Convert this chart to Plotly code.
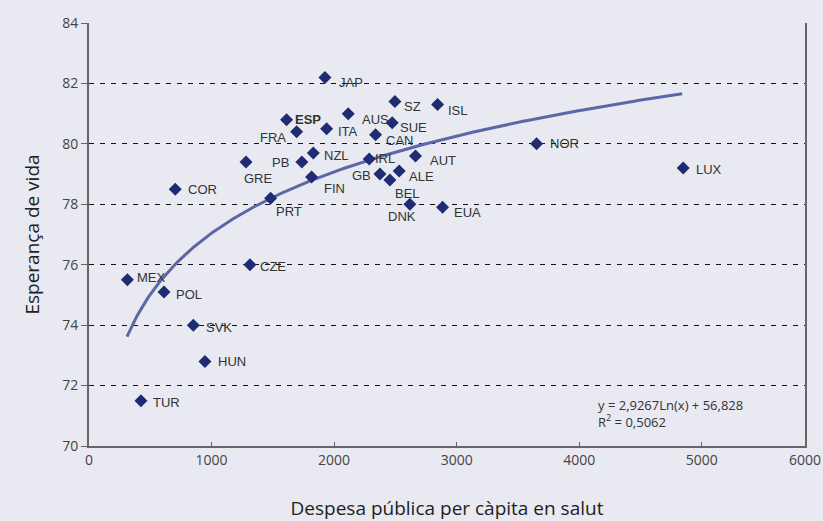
import numpy as np
import plotly.graph_objects as go

countries = ["JAP", "SZ", "ISL", "ESP", "AUS", "SUE", "FRA", "ITA", "CAN", "GRE",
             "PB", "NZL", "IRL", "AUT", "GB", "ALE", "BEL", "FIN", "PRT", "DNK",
             "EUA", "COR", "CZE", "MEX", "POL", "SVK", "HUN", "TUR", "NOR", "LUX"]
spending = [1925, 2496, 2844, 1612, 2115, 2474, 1694, 1939, 2338, 1281,
            1737, 1830, 2286, 2664, 2374, 2531, 2455, 1816, 1482, 2618,
            2885, 704, 1313, 313, 612, 851, 946, 424, 3652, 4848]
life_exp = [82.2, 81.4, 81.3, 80.8, 81.0, 80.7, 80.4, 80.5, 80.3, 79.4,
            79.4, 79.7, 79.5, 79.6, 79.0, 79.1, 78.8, 78.9, 78.2, 78.0,
            77.9, 78.5, 76.0, 75.5, 75.1, 74.0, 72.8, 71.5, 80.0, 79.2]

# label offsets in pixels (dx right, dy down) relative to marker
label_dx = [26, 18, 20, 21, 27, 21, -24, 21, 24, 12,
            -21, 23, 16, 27, -18, 22, 18, 23, 18, -8,
            25, 27, 23, 24, 25, 26, 27, 26, 28, 26]
label_dy = [5, 5, 6, 0, 6, 5, 6, 3, 6, 17,
            1, 3, 0, 5, 1, 5, 13, 11, 13, 12,
            5, 0, 2, -2, 3, 2, 0, 2, 0, 1]

# trendline coefficients (from chart equation)
coef_a = 2.9267
coef_b = 56.828
trend_x_start = 310
trend_x_end = 4840

y_ticks = [70, 72, 74, 76, 78, 80, 82, 84]
x_ticks = [0, 1000, 2000, 3000, 4000, 5000]
x_tick_labels = ["0", "1000", "2000", "3000", "4000", "5000"]

bg = "#E8E9F1"
fig = go.Figure()

tx = np.linspace(trend_x_start, trend_x_end, 300)
ty = coef_a * np.log(tx) + coef_b
fig.add_trace(go.Scatter(x=tx, y=ty, mode="lines",
                         line=dict(color="#5C67A8", width=3),
                         hoverinfo="skip", showlegend=False))

fig.add_trace(go.Scatter(x=spending, y=life_exp, mode="markers",
                         marker=dict(symbol="diamond", size=10, color="#1F2B73",
                                     line=dict(width=0)),
                         text=countries, showlegend=False))

for c, x, y, dx, dy in zip(countries, spending, life_exp, label_dx, label_dy):
    txt = "<b>%s</b>" % c if c == "ESP" else c
    fig.add_annotation(x=x, y=y, text=txt, showarrow=False,
                       xshift=dx, yshift=-dy, xanchor="center", yanchor="middle",
                       font=dict(family="Liberation Sans, Arial", size=13, color="#333333"))

fig.add_annotation(xref="paper", yref="paper", x=0.708, y=0.077, xanchor="left", yanchor="middle",
                   text="y = 2,9267Ln(x) + 56,828<br>R<sup>2</sup> = 0,5062", align="left",
                   showarrow=False,
                   font=dict(family="Open Sans", size=13, color="#333333"))

x_max = 5842
fig.update_layout(
    width=823, height=521,
    paper_bgcolor=bg, plot_bgcolor=bg,
    margin=dict(l=89, r=18, t=23, b=75),
    xaxis=dict(range=[0, x_max], tickvals=x_ticks + [x_max],
               ticktext=x_tick_labels + ["6000"], automargin=False,
               showgrid=False, zeroline=False,
               showline=True, linecolor="#666666", linewidth=2,
               ticks="inside", ticklen=4, tickcolor="#666666",
               tickfont=dict(family="Open Sans", size=14, color="#444444"),
               title=dict(text="Despesa pública per càpita en salut", standoff=34,
                          font=dict(family="Open Sans", size=19, color="#222222"))),
    yaxis=dict(range=[70, 84], tickvals=y_ticks, automargin=False,
               showgrid=True, gridcolor="#111111", gridwidth=1, griddash="5px,6px",
               zeroline=False,
               showline=True, linecolor="#666666", linewidth=2, mirror=True,
               ticks="outside", ticklen=6, tickcolor="#666666",
               tickfont=dict(family="Open Sans", size=14, color="#444444"),
               title=dict(text="Esperança de vida", standoff=18,
                          font=dict(family="Open Sans", size=19, color="#222222"))),
)

fig.write_html("out.html", config={"displayModeBar": False},
               post_script="document.body.style.margin='0';document.body.style.background='%s';" % bg)
